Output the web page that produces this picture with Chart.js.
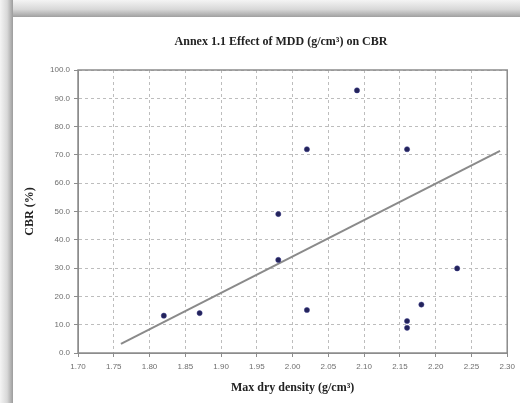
<!DOCTYPE html>
<html>
<head>
<meta charset="utf-8">
<script src="https://cdn.jsdelivr.net/npm/chart.js@4"></script>
<style>
  html, body { margin: 0; padding: 0; width: 520px; height: 403px; overflow: hidden; background: #ffffff; }
  #frameTop { position: absolute; left: 0; top: 0; width: 520px; height: 17px;
    background: linear-gradient(to bottom, #f4f4f4 0%, #d8d8d8 55%, #a0a0a0 100%); }
  #frameLeft { position: absolute; left: 0; top: 0; width: 13px; height: 403px;
    background: linear-gradient(to right, #f4f4f4 0%, #d8d8d8 55%, #9c9c9c 100%); }
  #card { position: absolute; left: 13px; top: 17px; width: 507px; height: 386px; background: #ffffff; }
  #c { position: absolute; left: 0; top: 0; }
</style>
</head>
<body>
<div id="frameTop"></div>
<div id="frameLeft"></div>
<div id="card"></div>
<canvas id="c" width="520" height="403"></canvas>
<script>
// ---- data ----
const chartTitle = 'Annex 1.1 Effect of MDD (g/cm\u00B3) on CBR';
const xTitle = 'Max dry density (g/cm\u00B3)';
const yTitle = 'CBR (%)';
const mdd = [1.82, 1.87, 1.98, 1.98, 2.02, 2.02, 2.09, 2.16, 2.16, 2.16, 2.18, 2.23];
const cbr = [13.2, 14.1, 49.1, 32.9, 72.0, 15.2, 92.8, 72.0, 11.3, 8.9, 17.1, 29.9];
const trendX = [1.76, 2.29];
const trendY = [3.2, 71.4];
const xTickValues = [1.70, 1.75, 1.80, 1.85, 1.90, 1.95, 2.00, 2.05, 2.10, 2.15, 2.20, 2.25, 2.30];
const yTickValues = [0, 10, 20, 30, 40, 50, 60, 70, 80, 90, 100];

const points = mdd.map((x, i) => ({ x: x, y: cbr[i] }));
const trend = trendX.map((x, i) => ({ x: x, y: trendY[i] }));

const serifBold = { family: "'Liberation Serif', 'Times New Roman', serif", weight: 'bold', size: 12 };

const framePlugin = {
  id: 'frame',
  afterDatasetsDraw(chart) {
    const a = chart.chartArea, ctx = chart.ctx;
    ctx.save();
    ctx.setLineDash([]);
    ctx.strokeStyle = '#8c8c8c';
    ctx.lineWidth = 1.5;
    ctx.strokeRect(a.left, a.top, a.right - a.left, a.bottom - a.top);
    ctx.restore();
  },
  afterDraw(chart) {
    const ctx = chart.ctx;
    ctx.save();
    ctx.fillStyle = '#222222';
    ctx.font = "bold 12px 'Liberation Serif', 'Times New Roman', serif";
    ctx.textAlign = 'center';
    ctx.textBaseline = 'middle';
    ctx.fillText(chartTitle, 281, 42);
    ctx.restore();
  }
};

new Chart(document.getElementById('c'), {
  type: 'scatter',
  data: {
    datasets: [
      {
        label: 'CBR',
        data: points,
        backgroundColor: '#23235a',
        borderColor: '#3a3a8a',
        borderWidth: 0.5,
        pointRadius: 2.6,
        order: 1
      },
      {
        label: 'Trend',
        type: 'line',
        data: trend,
        borderColor: '#8a8a8a',
        borderWidth: 2,
        pointRadius: 0,
        fill: false,
        order: 2
      }
    ]
  },
  options: {
    responsive: false,
    animation: false,
    layout: { padding: { left: 13, top: 70, right: 12, bottom: 0 } },
    plugins: {
      legend: { display: false },
      tooltip: { enabled: false },
      title: { display: false }
    },
    scales: {
      x: {
        type: 'linear',
        min: 1.70,
        max: 2.30,
        afterBuildTicks: s => { s.ticks = xTickValues.map(v => ({ value: v })); },
        afterFit: s => { s.height = 50; },
        ticks: {
          color: '#6e6e6e',
          font: { family: "'Liberation Sans', Arial, sans-serif", size: 8 },
          padding: 5,
          maxRotation: 0,
          autoSkip: false,
          callback: v => Number(v).toFixed(2)
        },
        grid: { color: '#bdbdbd', tickLength: 4, tickColor: '#8c8c8c', lineWidth: 1 },
        border: { display: true, color: '#8c8c8c', dash: [3, 3] },
        title: { display: true, text: xTitle, color: '#222222', font: serifBold, padding: { top: 0, bottom: 8 } }
      },
      y: {
        type: 'linear',
        min: 0,
        max: 100,
        afterBuildTicks: s => { s.ticks = yTickValues.map(v => ({ value: v })); },
        afterFit: s => { s.width = 65; },
        ticks: {
          color: '#6e6e6e',
          font: { family: "'Liberation Sans', Arial, sans-serif", size: 8 },
          padding: 4,
          autoSkip: false,
          callback: v => Number(v).toFixed(1)
        },
        grid: { color: '#bdbdbd', tickLength: 4, tickColor: '#8c8c8c', lineWidth: 1 },
        border: { display: true, color: '#8c8c8c', dash: [3, 3] },
        title: { display: true, text: yTitle, color: '#222222', font: serifBold, padding: { top: 10, bottom: 0 } }
      }
    }
  },
  plugins: [framePlugin]
});
</script>
</body>
</html>
